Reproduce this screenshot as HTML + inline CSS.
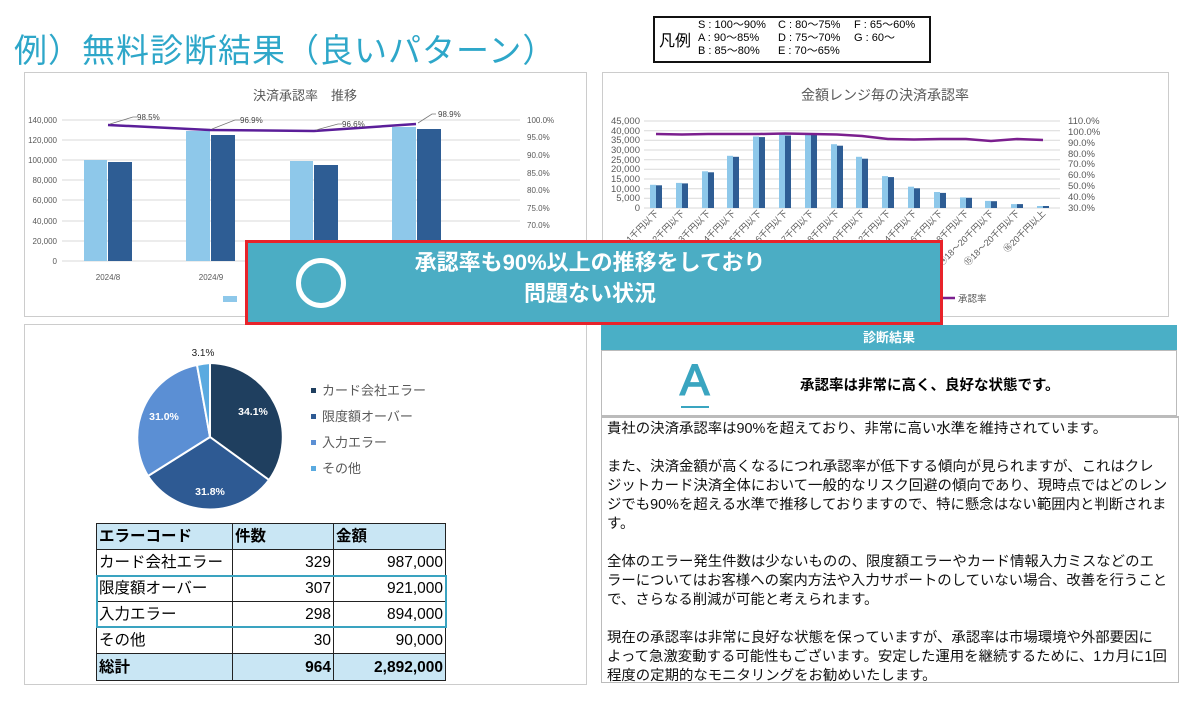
<!DOCTYPE html>
<html><head><meta charset="utf-8"><style>
body{margin:0;width:1200px;height:701px;background:#fff;overflow:hidden;position:relative;font-family:"Liberation Sans","Noto Sans CJK JP",sans-serif}
.a{position:absolute}
svg text{font-family:"Liberation Sans","Noto Sans CJK JP",sans-serif}
table{border-collapse:collapse;font-size:15.5px}
td{border:1.5px solid #222;height:23px;line-height:23px;padding:0 2px;white-space:nowrap;box-sizing:border-box}
.tx div{height:19px;white-space:nowrap}
</style></head><body>
<div class="a" style="left:14px;top:24px;font-size:33px;color:#2ea7c9;white-space:nowrap;letter-spacing:1px">例）無料診断結果（良いパターン）</div>
<div class="a" style="left:653px;top:16px;width:274px;height:43px;border:2px solid #111"></div>
<div class="a" style="left:659px;top:27px;font-size:16px">凡例</div>
<div class="a" style="left:698px;top:19px;font-size:11px;line-height:13px;white-space:nowrap">S : 100～90%<br>A : 90～85%<br>B : 85～80%</div>
<div class="a" style="left:778px;top:19px;font-size:11px;line-height:13px;white-space:nowrap">C : 80～75%<br>D : 75～70%<br>E : 70～65%</div>
<div class="a" style="left:854px;top:19px;font-size:11px;line-height:13px;white-space:nowrap">F : 65～60%<br>G : 60～</div>

<svg class="a" style="left:0;top:0" width="1200" height="701">
<rect x="24.5" y="72.5" width="562" height="244" fill="#fff" stroke="#ccc"/>
<text x="305" y="100" font-size="13" fill="#595959" text-anchor="middle">決済承認率　推移</text>
<g stroke="#d9d9d9" stroke-width="1">
<line x1="62" x2="520" y1="120" y2="120"/><line x1="62" x2="520" y1="140" y2="140"/><line x1="62" x2="520" y1="160" y2="160"/><line x1="62" x2="520" y1="180" y2="180"/><line x1="62" x2="520" y1="200" y2="200"/><line x1="62" x2="520" y1="221" y2="221"/><line x1="62" x2="520" y1="241" y2="241"/><line x1="62" x2="520" y1="261" y2="261"/></g>
<g font-size="8" fill="#595959" text-anchor="end">
<text x="57" y="123">140,000</text><text x="57" y="143">120,000</text><text x="57" y="163">100,000</text><text x="57" y="183">80,000</text><text x="57" y="203">60,000</text><text x="57" y="224">40,000</text><text x="57" y="244">20,000</text><text x="57" y="264">0</text></g>
<g font-size="8" fill="#595959">
<text x="527" y="123">100.0%</text><text x="527" y="140">95.0%</text><text x="527" y="158">90.0%</text><text x="527" y="176">85.0%</text><text x="527" y="193">80.0%</text><text x="527" y="211">75.0%</text><text x="527" y="228">70.0%</text></g>
<g fill="#8ec8ea"><rect x="84" y="160" width="23" height="101"/><rect x="186" y="131" width="24" height="130"/><rect x="290" y="161" width="23" height="100"/><rect x="392" y="127" width="24" height="134"/></g>
<g fill="#2e5d94"><rect x="108" y="162" width="24" height="99"/><rect x="211" y="135" width="24" height="126"/><rect x="314" y="165" width="24" height="96"/><rect x="417" y="129" width="24" height="132"/></g>
<polyline points="108,125 210,130 314,131 416,124" fill="none" stroke="#5b1e99" stroke-width="2.5"/>
<g stroke="#777" fill="none" stroke-width="0.8"><polyline points="110,124 133,117 137,117"/><polyline points="212,129 235,120 240,120"/><polyline points="316,130 338,124 342,124"/><polyline points="418,123 432,114 436,114"/></g>
<g font-size="8" fill="#444"><text x="137" y="120">98.5%</text><text x="240" y="123">96.9%</text><text x="342" y="127">96.6%</text><text x="438" y="117">98.9%</text></g>
<g font-size="8" fill="#595959" text-anchor="middle"><text x="108" y="280">2024/8</text><text x="211" y="280">2024/9</text></g>
<rect x="223" y="296" width="14" height="6" fill="#8ec8ea"/>
<rect x="602.5" y="72.5" width="566" height="244" fill="#fff" stroke="#ccc"/>
<text x="885" y="100" font-size="14" fill="#595959" text-anchor="middle">金額レンジ毎の決済承認率</text>
<g stroke="#d9d9d9"><line x1="644" x2="1060" y1="121" y2="121"/><line x1="644" x2="1060" y1="130.7" y2="130.7"/><line x1="644" x2="1060" y1="140.3" y2="140.3"/><line x1="644" x2="1060" y1="150" y2="150"/><line x1="644" x2="1060" y1="159.7" y2="159.7"/><line x1="644" x2="1060" y1="169.3" y2="169.3"/><line x1="644" x2="1060" y1="179" y2="179"/><line x1="644" x2="1060" y1="188.7" y2="188.7"/><line x1="644" x2="1060" y1="198.3" y2="198.3"/><line x1="644" x2="1060" y1="208" y2="208"/></g>
<g font-size="9.5" fill="#595959" text-anchor="end"><text x="640" y="124">45,000</text><text x="640" y="134">40,000</text><text x="640" y="143">35,000</text><text x="640" y="153">30,000</text><text x="640" y="163">25,000</text><text x="640" y="172">20,000</text><text x="640" y="182">15,000</text><text x="640" y="192">10,000</text><text x="640" y="201">5,000</text><text x="640" y="211">0</text></g>
<g font-size="9.5" fill="#595959"><text x="1068" y="124">110.0%</text><text x="1068" y="135">100.0%</text><text x="1068" y="146">90.0%</text><text x="1068" y="157">80.0%</text><text x="1068" y="167">70.0%</text><text x="1068" y="178">60.0%</text><text x="1068" y="189">50.0%</text><text x="1068" y="200">40.0%</text><text x="1068" y="211">30.0%</text></g>
<g fill="#8ec8ea">
<rect x="650" y="184.8" width="6" height="23.2"/><rect x="676" y="182.9" width="6" height="25.1"/><rect x="702" y="171.3" width="6" height="36.7"/><rect x="727" y="155.8" width="6" height="52.2"/><rect x="753" y="136.5" width="6" height="71.5"/><rect x="779" y="134.5" width="6" height="73.5"/><rect x="805" y="133.6" width="6" height="74.4"/><rect x="831" y="144.2" width="6" height="63.8"/><rect x="856" y="156.8" width="6" height="51.2"/><rect x="882" y="176.1" width="6" height="31.9"/><rect x="908" y="186.7" width="6" height="21.3"/><rect x="934" y="192" width="6" height="16"/><rect x="960" y="197.4" width="6" height="10.6"/><rect x="985" y="200.9" width="6" height="7.1"/><rect x="1011" y="204.1" width="6" height="3.9"/><rect x="1037" y="206" width="6" height="2"/></g>
<g fill="#2e5d94">
<rect x="656" y="185.3" width="6" height="22.7"/><rect x="682" y="183.4" width="6" height="24.6"/><rect x="708" y="172.3" width="6" height="35.7"/><rect x="733" y="156.8" width="6" height="51.2"/><rect x="759" y="137.1" width="6" height="70.9"/><rect x="785" y="135.5" width="6" height="72.5"/><rect x="811" y="134.5" width="6" height="73.5"/><rect x="837" y="145.7" width="6" height="62.3"/><rect x="862" y="158.7" width="6" height="49.3"/><rect x="888" y="177.1" width="6" height="30.9"/><rect x="914" y="188.3" width="6" height="19.7"/><rect x="940" y="192.9" width="6" height="15.1"/><rect x="966" y="197.8" width="6" height="10.2"/><rect x="991" y="201.2" width="6" height="6.8"/><rect x="1017" y="204.1" width="6" height="3.9"/><rect x="1043" y="206" width="6" height="2"/></g>
<polyline points="656,134 682,134.5 708,134 733,134 759,134 785,133.5 811,134 837,134.5 862,136 888,139 914,139.5 940,139 966,139 991,141 1017,139 1043,140" fill="none" stroke="#7b1f8e" stroke-width="2.5"/>
<g font-size="9" fill="#595959" text-anchor="end">
<text transform="translate(659,214) rotate(-45)">①～1千円以下</text><text transform="translate(685,214) rotate(-45)">②1～2千円以下</text><text transform="translate(711,214) rotate(-45)">③2～3千円以下</text><text transform="translate(736,214) rotate(-45)">④3～4千円以下</text><text transform="translate(762,214) rotate(-45)">⑤4～5千円以下</text><text transform="translate(788,214) rotate(-45)">⑥5～6千円以下</text><text transform="translate(814,214) rotate(-45)">⑦6～7千円以下</text><text transform="translate(840,214) rotate(-45)">⑧7～8千円以下</text><text transform="translate(865,214) rotate(-45)">⑨8～10千円以下</text><text transform="translate(891,214) rotate(-45)">⑩10～12千円以下</text><text transform="translate(917,214) rotate(-45)">⑪12～14千円以下</text><text transform="translate(943,214) rotate(-45)">⑫14～16千円以下</text><text transform="translate(969,214) rotate(-45)">⑬16～18千円以下</text><text transform="translate(994,214) rotate(-45)">⑭18～20千円以下</text><text transform="translate(1020,214) rotate(-45)">⑮18～20千円以下</text><text transform="translate(1046,214) rotate(-45)">⑯20千円以上</text></g>
<line x1="942" x2="955" y1="298" y2="298" stroke="#7b1f8e" stroke-width="2.5"/>
<text x="958" y="302" font-size="9.5" fill="#595959">承認率</text>
<rect x="24.5" y="324.5" width="562" height="360" fill="#fff" stroke="#ccc"/>
<g stroke="#fff" stroke-width="2">
<path d="M210,437 L210,363 A74,74 0 0 1 269,480 Z" fill="#1f3f5f"/>
<path d="M210,437 L269,480 A74,74 0 0 1 148,476 Z" fill="#2e5a93"/>
<path d="M210,437 L148,476 A74,74 0 0 1 197,365 Z" fill="#5b8fd4"/>
<path d="M210,437 L197,365 A74,74 0 0 1 210,363 Z" fill="#5aaae0"/></g>
<g font-size="10.5" font-weight="bold" fill="#fff" text-anchor="middle"><text x="253" y="415">34.1%</text><text x="164" y="420">31.0%</text><text x="210" y="495">31.8%</text></g>
<text x="203" y="356" font-size="10" fill="#222" text-anchor="middle">3.1%</text>
<rect x="311" y="388" width="5" height="5" fill="#1f3f5f"/><rect x="311" y="414" width="5" height="5" fill="#2e5a93"/><rect x="311" y="440" width="5" height="5" fill="#5b8fd4"/><rect x="311" y="466" width="5" height="5" fill="#5aaae0"/>
<g font-size="13" fill="#595959"><text x="322" y="395">カード会社エラー</text><text x="322" y="421">限度額オーバー</text><text x="322" y="447">入力エラー</text><text x="322" y="473">その他</text></g>
</svg>

<table class="a" style="left:96px;top:523px;width:350px">
<tr style="background:#c9e6f4;font-weight:bold;height:26px"><td style="width:136px">エラーコード</td><td style="width:101px">件数</td><td>金額</td></tr>
<tr style="height:26px"><td>カード会社エラー</td><td style="text-align:right">329</td><td style="text-align:right">987,000</td></tr>
<tr style="height:26px"><td>限度額オーバー</td><td style="text-align:right">307</td><td style="text-align:right">921,000</td></tr>
<tr style="height:26px"><td>入力エラー</td><td style="text-align:right">298</td><td style="text-align:right">894,000</td></tr>
<tr style="height:26px"><td>その他</td><td style="text-align:right">30</td><td style="text-align:right">90,000</td></tr>
<tr style="background:#c9e6f4;font-weight:bold;height:27px"><td>総計</td><td style="text-align:right">964</td><td style="text-align:right">2,892,000</td></tr>
</table>
<div class="a" style="left:96px;top:575px;width:347px;height:49px;border:2px solid #3aa3c0"></div>

<div class="a" style="left:601px;top:325px;width:576px;height:25px;background:#4aafc6;color:#fff;font-weight:bold;font-size:13px;text-align:center;line-height:25px">診断結果</div>
<div class="a" style="left:601px;top:350px;width:574px;height:64px;border:1px solid #bbb"></div>
<div class="a" style="left:680px;top:357px;font-size:44px;color:#3aa5c0;line-height:48px;-webkit-text-stroke:1.5px #3aa5c0">A</div>
<div class="a" style="left:681px;top:406px;width:28px;height:2px;background:#3aa5c0"></div>
<div class="a" style="left:800px;top:374px;font-size:14.5px;font-weight:bold;white-space:nowrap">承認率は非常に高く、良好な状態です。</div>
<div class="a tx" style="left:601px;top:416px;width:571px;height:262px;border:1px solid #bbb;border-top:2px solid #bbb;padding:2px 0 0 5px;font-size:14.4px;line-height:19px;color:#111">
<div>貴社の決済承認率は90%を超えており、非常に高い水準を維持されています。</div><div></div>
<div>また、決済金額が高くなるにつれ承認率が低下する傾向が見られますが、これはクレ</div>
<div>ジットカード決済全体において一般的なリスク回避の傾向であり、現時点ではどのレン</div>
<div>ジでも90%を超える水準で推移しておりますので、特に懸念はない範囲内と判断されま</div>
<div>す。</div><div></div>
<div>全体のエラー発生件数は少ないものの、限度額エラーやカード情報入力ミスなどのエ</div>
<div>ラーについてはお客様への案内方法や入力サポートのしていない場合、改善を行うこと</div>
<div>で、さらなる削減が可能と考えられます。</div><div></div>
<div>現在の承認率は非常に良好な状態を保っていますが、承認率は市場環境や外部要因に</div>
<div>よって急激変動する可能性もございます。安定した運用を継続するために、1カ月に1回</div>
<div>程度の定期的なモニタリングをお勧めいたします。</div>
</div>

<div class="a" style="left:245px;top:240px;width:692px;height:79px;border:3px solid #e8232a;background:#4badc4"></div>
<div class="a" style="left:296px;top:258px;width:40px;height:40px;border:5px solid #fff;border-radius:50%"></div>
<div class="a" style="left:350px;top:247px;width:480px;text-align:center;color:#fff;font-weight:bold;font-size:22px;line-height:31px">承認率も90%以上の推移をしており<br>問題ない状況</div>
</body></html>
